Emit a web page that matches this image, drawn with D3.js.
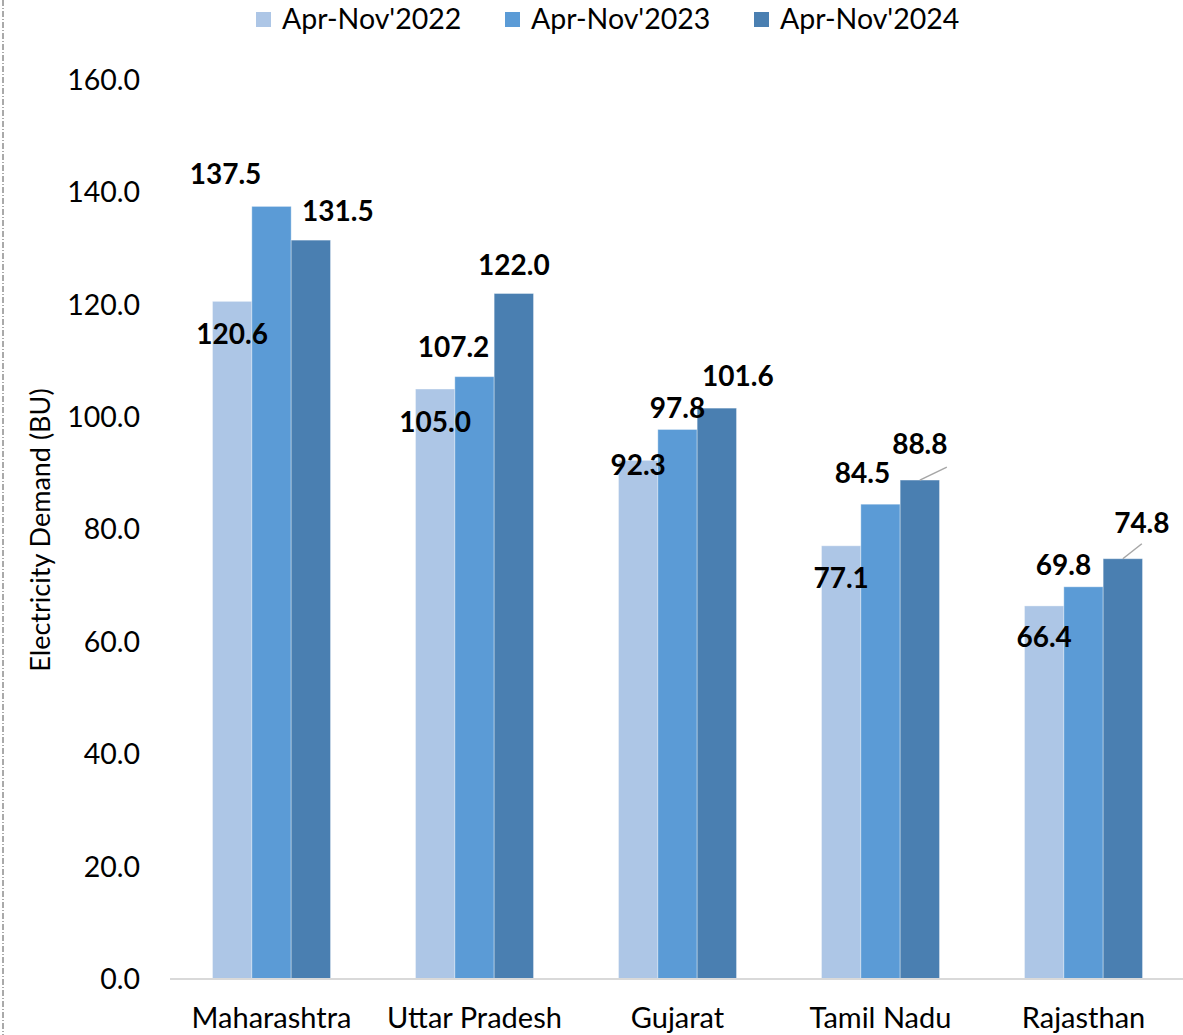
<!DOCTYPE html>
<html><head><meta charset="utf-8">
<script src="https://cdn.jsdelivr.net/npm/d3@7"></script>
<style>body{margin:0;background:#fff;} svg{display:block;}</style>
</head><body>
<script>
const categories = ["Maharashtra","Uttar Pradesh","Gujarat","Tamil Nadu","Rajasthan"];
const seriesNames = ["Apr-Nov'2022","Apr-Nov'2023","Apr-Nov'2024"];
const s2022 = [120.6,105.0,92.3,77.1,66.4];
const s2023 = [137.5,107.2,97.8,84.5,69.8];
const s2024 = [131.5,122.0,101.6,88.8,74.8];
const yTicks = [0,20,40,60,80,100,120,140,160];
const colors = ["#adc6e6","#5b9bd6","#4a7fb1"];
// label offsets (dx, dy in px from bar top center) per series/category
const labelDx = [[0,0,0,0,0],[-46,-21,0,-18,-20],[27,0,21,0,19]];
const labelDy = [[33,33,5,32,31],[-32,-29,-21,-31,-22],[-29,-28,-32,-36,-36]];
const leader = [[false,false,false,false,false],[false,false,false,false,false],[false,false,false,true,true]];

const W=1183,H=1035;
const svg=d3.select("body").append("svg").attr("width",W).attr("height",H);
const font="Lato, 'Open Sans', sans-serif";
const x0=170, x1=1185, yTop=80, yBot=979;
const x=d3.scaleBand().domain(categories).range([x0,x1]).paddingInner(0).paddingOuter(0);
const y=d3.scaleLinear().domain([0,160]).range([yBot,yTop]);
const groupW=118;
const xs=d3.scaleBand().domain([0,1,2]).range([0,groupW]);
const series=[s2022,s2023,s2024];

// left dashed border
svg.append("line").attr("x1",3).attr("x2",3).attr("y1",0).attr("y2",H)
  .attr("stroke","#555").attr("stroke-width",1).attr("stroke-dasharray","6,2,1,2");

// y tick labels
svg.append("g").selectAll("text").data(yTicks).join("text")
  .attr("x",140).attr("y",d=>y(d)).attr("dy","0.35em").attr("text-anchor","end")
  .attr("font-family",font).attr("font-size",28.5).attr("fill","#000")
  .text(d=>d.toFixed(1));

// axis title
svg.append("text").attr("transform","translate(50,530) rotate(-90)")
  .attr("text-anchor","middle").attr("font-family",font).attr("font-size",27)
  .text("Electricity Demand (BU)");

// bars
series.forEach((vals,si)=>{
  svg.append("g").selectAll("rect").data(vals).join("rect")
    .attr("x",(d,i)=>x(categories[i])+(x.bandwidth()-groupW)/2+xs(si))
    .attr("width",xs.bandwidth())
    .attr("y",d=>y(d)).attr("height",d=>yBot-y(d))
    .attr("fill",colors[si]).attr("stroke","#ffffff").attr("stroke-opacity",0.35).attr("stroke-width",1);
});

// x axis line
svg.append("line").attr("x1",x0).attr("x2",W).attr("y1",yBot).attr("y2",yBot)
  .attr("stroke","#d9d9d9").attr("stroke-width",2);

// category labels
svg.append("g").selectAll("text").data(categories).join("text")
  .attr("x",d=>x(d)+x.bandwidth()/2).attr("y",1018).attr("dy","0.35em")
  .attr("text-anchor","middle").attr("font-family",font).attr("font-size",29)
  .text(d=>d);

// data labels
series.forEach((vals,si)=>{
  vals.forEach((v,i)=>{
    const cx=x(categories[i])+(x.bandwidth()-groupW)/2+xs(si)+xs.bandwidth()/2;
    const ty=y(v);
    const lx=cx+labelDx[si][i], ly=ty+labelDy[si][i];
    if(leader[si][i]){
      svg.append("line").attr("x1",cx).attr("y1",ty).attr("x2",cx+(i===3?27:19)).attr("y2",ty-(i===3?13:15))
        .attr("stroke","#a6a6a6").attr("stroke-width",1.5);
    }
    svg.append("text").attr("x",lx).attr("y",ly).attr("dy","0.35em")
      .attr("text-anchor","middle").attr("font-family",font).attr("font-weight","bold")
      .attr("font-size",28).attr("fill","#000").text(v.toFixed(1));
  });
});

// legend
const legX=[256,505,754];
seriesNames.forEach((n,i)=>{
  svg.append("rect").attr("x",legX[i]).attr("y",12).attr("width",15).attr("height",15).attr("fill",colors[i]);
  svg.append("text").attr("x",legX[i]+26).attr("y",19).attr("dy","0.35em")
    .attr("font-family",font).attr("font-size",28.5).text(n);
});
</script>
</body></html>
